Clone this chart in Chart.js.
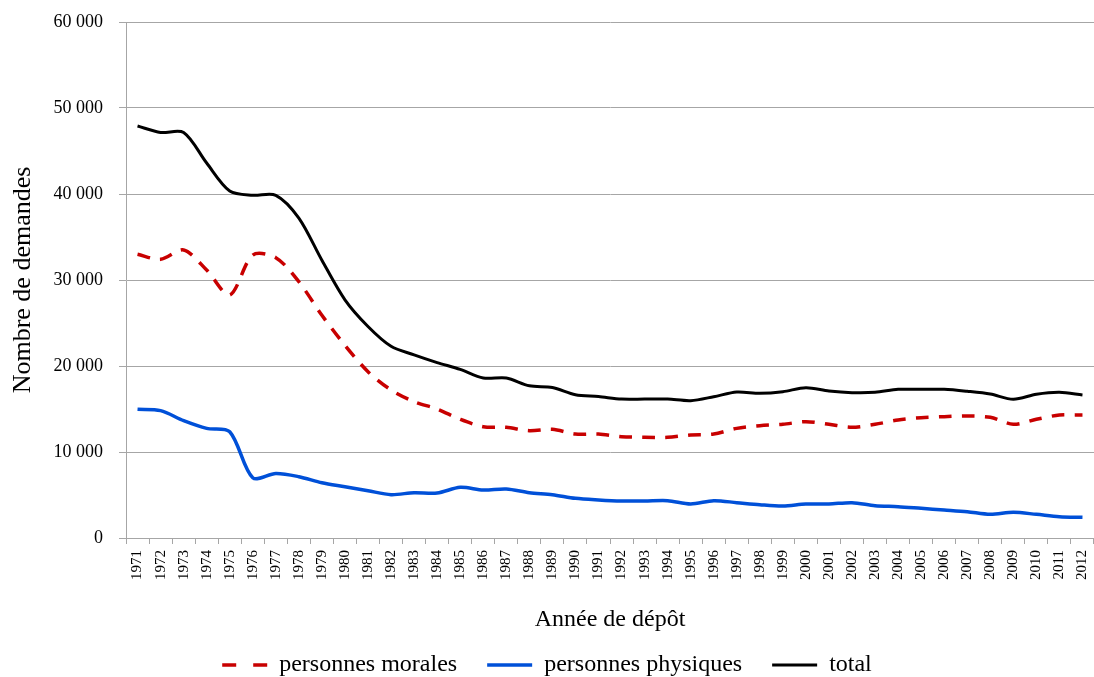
<!DOCTYPE html>
<html lang="fr">
<head>
<meta charset="utf-8">
<title>Nombre de demandes par année de dépôt</title>
<script src="https://cdn.jsdelivr.net/npm/chart.js@4.4.1/dist/chart.umd.min.js"></script>
<style>
    html, body { margin: 0; padding: 0; background: #fff; }
    #wrap { width: 1094px; height: 677px; }
</style>
</head>
<body>
<div id="wrap"><canvas id="chart" width="1094" height="677"></canvas></div>
<script>
// ── Data ─────────────────────────────────────────────────────
const years = [
    '1971', '1972', '1973', '1974', '1975', '1976', '1977', '1978', '1979', '1980',
    '1981', '1982', '1983', '1984', '1985', '1986', '1987', '1988', '1989', '1990',
    '1991', '1992', '1993', '1994', '1995', '1996', '1997', '1998', '1999', '2000',
    '2001', '2002', '2003', '2004', '2005', '2006', '2007', '2008', '2009', '2010',
    '2011', '2012'
];

const personnesMorales = [
    32990, 32400, 33490, 31160, 28260, 32900, 32600, 29800, 25900, 22400,
    19340, 17210, 15850, 15000, 13800, 12940, 12870, 12480, 12640, 12090,
    12090, 11780, 11710, 11710, 11980, 12090, 12750, 13060, 13220, 13530,
    13220, 12870, 13220, 13720, 13990, 14110, 14190, 14030, 13220, 13800,
    14300, 14300
];

const personnesPhysiques = [
    14960, 14810, 13640, 12750, 12360, 7000, 7500, 7130, 6430, 5970,
    5500, 5040, 5270, 5230, 5890, 5580, 5700, 5270, 5040, 4610,
    4420, 4300, 4300, 4340, 3950, 4340, 4110, 3870, 3720, 3950,
    3950, 4110, 3760, 3640, 3450, 3260, 3060, 2750, 2990, 2750,
    2480, 2400
];

const total = [
    47900, 47150, 47150, 43600, 40350, 39850, 39850, 37200, 32300, 27700,
    24600, 22300, 21300, 20400, 19600, 18600, 18600, 17700, 17500, 16650,
    16450, 16150, 16150, 16150, 15970, 16430, 16980, 16820, 17010, 17480,
    17090, 16900, 16940, 17290, 17290, 17290, 17060, 16740, 16130, 16710,
    16940, 16630
];

const yTicks = [0, 10000, 20000, 30000, 40000, 50000, 60000];

// ── Helpers ──────────────────────────────────────────────────
const SERIF = "'Liberation Serif', 'Times New Roman', serif";
const GRID = '#a6a6a6';

// 60000 -> "60 000"
function frNumber(v) {
    return String(v).replace(/\B(?=(\d{3})+(?!\d))/g, ' ');
}

// legend items: keep the dataset's own dash / width (point style drops them)
function legendLabels(chart) {
    const items = Chart.defaults.plugins.legend.labels.generateLabels(chart);
    items.forEach(item => {
        const ds = chart.data.datasets[item.datasetIndex];
        item.strokeStyle = ds.borderColor;
        item.lineWidth = ds.borderWidth;
        item.lineDash = ds.borderDash ? [14, 17] : [];
    });
    return items;
}

// ── Chart ────────────────────────────────────────────────────
new Chart(document.getElementById('chart'), {
    type: 'line',
    data: {
        labels: years,
        datasets: [
            {
                label: 'personnes morales',
                data: personnesMorales,
                borderColor: '#c80000',
                backgroundColor: '#c80000',
                borderWidth: 3.5,
                borderDash: [13, 10],
                pointRadius: 0,
                tension: 0.3,
                fill: false
            },
            {
                label: 'personnes physiques',
                data: personnesPhysiques,
                borderColor: '#0050d8',
                backgroundColor: '#0050d8',
                borderWidth: 3.5,
                pointRadius: 0,
                tension: 0.3,
                fill: false
            },
            {
                label: 'total',
                data: total,
                borderColor: '#000000',
                backgroundColor: '#000000',
                borderWidth: 3,
                pointRadius: 0,
                tension: 0.3,
                fill: false
            }
        ]
    },
    options: {
        responsive: false,
        animation: false,
        devicePixelRatio: 1,
        layout: { padding: { top: 22, right: 0, bottom: -10, left: 0 } },
        plugins: {
            tooltip: { enabled: false },
            legend: {
                position: 'bottom',
                align: 'center',
                labels: {
                    usePointStyle: true,
                    pointStyle: 'line',
                    pointStyleWidth: 45,
                    boxHeight: 20,
                    padding: 30,
                    color: '#000',
                    font: { family: SERIF, size: 24 },
                    generateLabels: legendLabels
                }
            }
        },
        scales: {
            x: {
                offset: true,
                grid: {
                    offset: true,
                    drawOnChartArea: false,
                    drawTicks: true,
                    tickLength: 6,
                    color: GRID
                },
                border: { color: GRID, width: 1 },
                ticks: {
                    autoSkip: false,
                    minRotation: 90,
                    maxRotation: 90,
                    padding: 6,
                    color: '#000',
                    font: { family: SERIF, size: 15 }
                },
                title: {
                    display: true,
                    text: 'Année de dépôt',
                    color: '#000',
                    padding: { top: 0, bottom: -11 },
                    font: { family: SERIF, size: 24 }
                },
                afterFit: scale => {
                    scale.height = 85;
                    scale.paddingLeft = 0;
                    scale.paddingRight = 0;
                }
            },
            y: {
                min: 0,
                max: 60000,
                afterBuildTicks: scale => {
                    scale.ticks = yTicks.map(v => ({ value: v }));
                },
                grid: {
                    color: GRID,
                    lineWidth: 1,
                    drawTicks: true,
                    tickLength: 7
                },
                border: { color: GRID, width: 1 },
                ticks: {
                    padding: 16,
                    color: '#000',
                    font: { family: SERIF, size: 18 },
                    callback: v => frNumber(v)
                },
                title: {
                    display: true,
                    text: 'Nombre de demandes',
                    color: '#000',
                    padding: { top: 8, bottom: 0 },
                    font: { family: SERIF, size: 26 }
                },
                afterFit: scale => {
                    scale.width = 126;
                    scale.paddingTop = 0;
                    scale.paddingBottom = 0;
                }
            }
        }
    }
});
</script>
</body>
</html>
